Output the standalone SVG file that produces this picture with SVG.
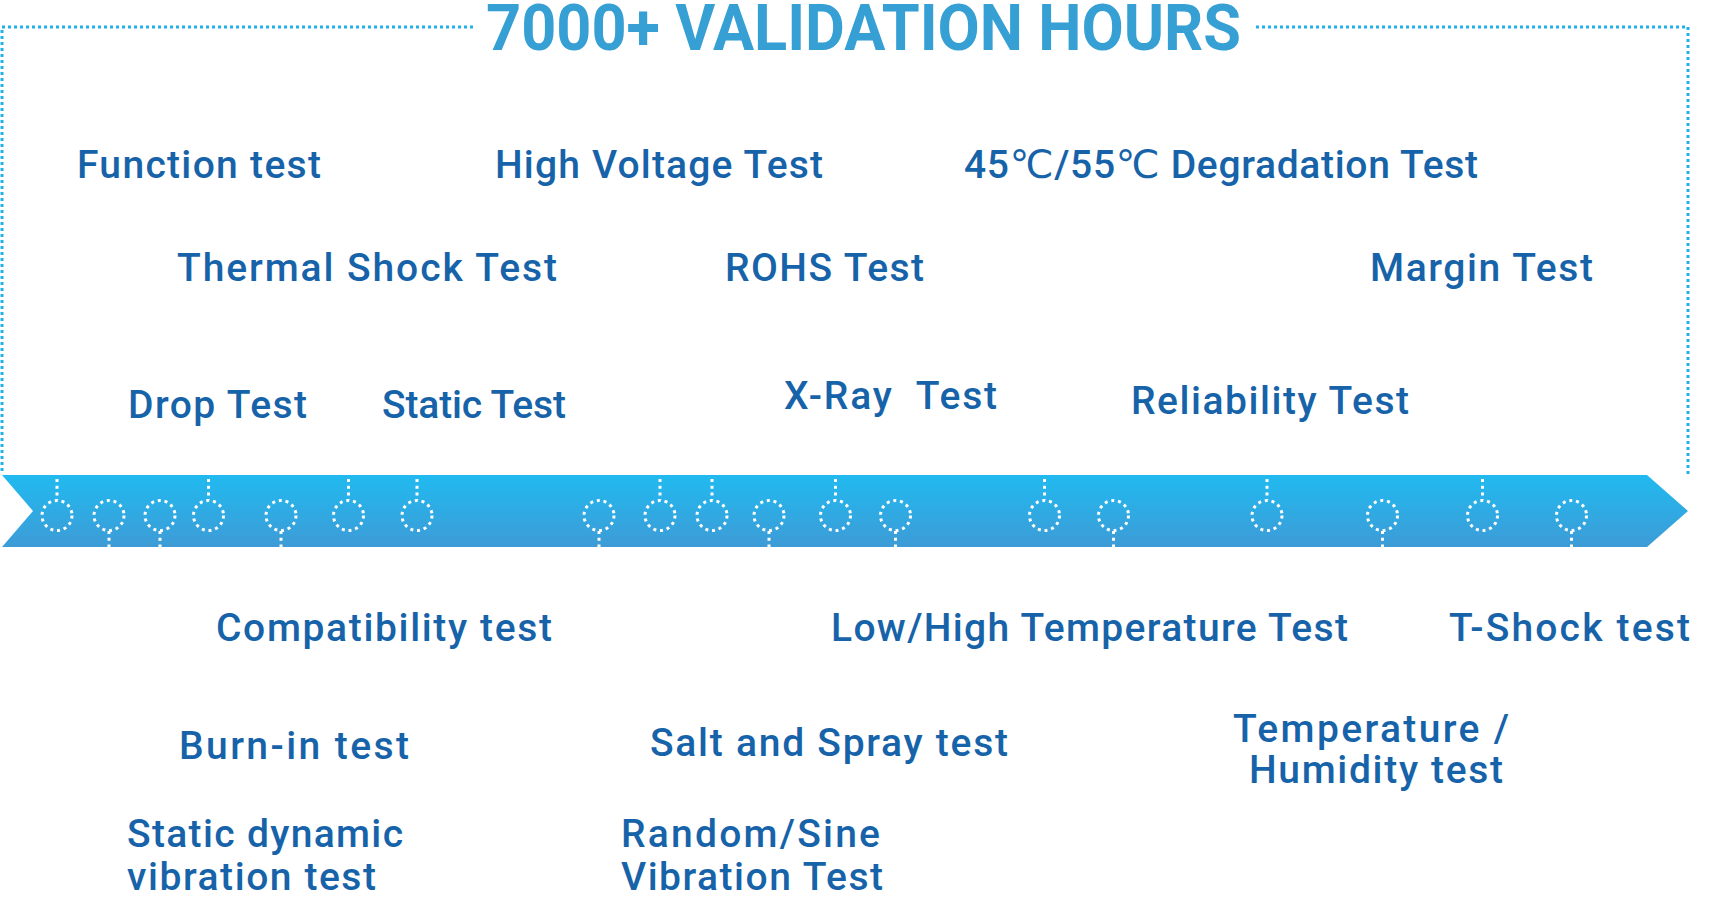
<svg xmlns="http://www.w3.org/2000/svg" width="1712" height="910" viewBox="0 0 1712 910">
  <defs>
    <linearGradient id="barGrad" x1="0" y1="0" x2="0" y2="1">
      <stop offset="0" stop-color="#20baf0"/>
      <stop offset="1" stop-color="#3e9bd6"/>
    </linearGradient>
    <style>
      .frame { fill: none; stroke: #22b0e8; stroke-width: 3; stroke-dasharray: 3 3; }
      .title { font-family: Roboto, "Liberation Sans", sans-serif; font-weight: 700; font-size: 65px; fill: #36a0d4; }
      .lbl { font-family: Roboto, "DejaVu Sans", "Liberation Sans", sans-serif; font-weight: 500; font-size: 39px; fill: #1763a9; }
      .ring { fill: none; stroke: #ffffff; stroke-width: 3; stroke-dasharray: 3 3.8; }
      .stem { fill: none; stroke: #ffffff; stroke-width: 3; stroke-dasharray: 3 3.8; }
    </style>
  </defs>

  <rect x="0" y="0" width="1712" height="910" fill="#ffffff"/>

  <g id="frame">
    <polyline class="frame" points="473,27 2,27 2,472"/>
    <polyline class="frame" points="1256,27 1688,27 1688,475"/>
  </g>

  <g id="title">
    <text class="title" x="486" y="50" textLength="755" lengthAdjust="spacingAndGlyphs">7000+ VALIDATION HOURS</text>
  </g>

  <g id="timeline">
    <path d="M2,475 L1647,475 L1688,511 L1647,547 L2,547 L33,511 Z" fill="url(#barGrad)"/>
  </g>

  <g id="connectors">
    <line class="stem" x1="57" y1="479" x2="57" y2="500"/>
    <line class="stem" x1="208.5" y1="479" x2="208.5" y2="500"/>
    <line class="stem" x1="348.5" y1="479" x2="348.5" y2="500"/>
    <line class="stem" x1="417" y1="479" x2="417" y2="500"/>
    <line class="stem" x1="660" y1="479" x2="660" y2="500"/>
    <line class="stem" x1="712" y1="479" x2="712" y2="500"/>
    <line class="stem" x1="835.5" y1="479" x2="835.5" y2="500"/>
    <line class="stem" x1="1044.5" y1="479" x2="1044.5" y2="500"/>
    <line class="stem" x1="1267" y1="479" x2="1267" y2="500"/>
    <line class="stem" x1="1482.5" y1="479" x2="1482.5" y2="500"/>
    <line class="stem" x1="109" y1="531" x2="109" y2="547"/>
    <line class="stem" x1="160" y1="531" x2="160" y2="547"/>
    <line class="stem" x1="281" y1="531" x2="281" y2="547"/>
    <line class="stem" x1="599" y1="531" x2="599" y2="547"/>
    <line class="stem" x1="769" y1="531" x2="769" y2="547"/>
    <line class="stem" x1="895.5" y1="531" x2="895.5" y2="547"/>
    <line class="stem" x1="1113.5" y1="531" x2="1113.5" y2="547"/>
    <line class="stem" x1="1382.5" y1="531" x2="1382.5" y2="547"/>
    <line class="stem" x1="1571.5" y1="531" x2="1571.5" y2="547"/>
  </g>

  <g id="milestones">
    <circle class="ring" cx="57" cy="515.5" r="15"/>
    <circle class="ring" cx="109" cy="515.5" r="15"/>
    <circle class="ring" cx="160" cy="515.5" r="15"/>
    <circle class="ring" cx="208.5" cy="515.5" r="15"/>
    <circle class="ring" cx="281" cy="515.5" r="15"/>
    <circle class="ring" cx="348.5" cy="515.5" r="15"/>
    <circle class="ring" cx="417" cy="515.5" r="15"/>
    <circle class="ring" cx="599" cy="515.5" r="15"/>
    <circle class="ring" cx="660" cy="515.5" r="15"/>
    <circle class="ring" cx="712" cy="515.5" r="15"/>
    <circle class="ring" cx="769" cy="515.5" r="15"/>
    <circle class="ring" cx="835.5" cy="515.5" r="15"/>
    <circle class="ring" cx="895.5" cy="515.5" r="15"/>
    <circle class="ring" cx="1044.5" cy="515.5" r="15"/>
    <circle class="ring" cx="1113.5" cy="515.5" r="15"/>
    <circle class="ring" cx="1267" cy="515.5" r="15"/>
    <circle class="ring" cx="1382.5" cy="515.5" r="15"/>
    <circle class="ring" cx="1482.5" cy="515.5" r="15"/>
    <circle class="ring" cx="1571.5" cy="515.5" r="15"/>
  </g>

  <g id="label-function"><text class="lbl" x="77" y="178" textLength="244" lengthAdjust="spacing">Function test</text></g>
  <g id="label-highvoltage"><text class="lbl" x="495" y="178" textLength="328" lengthAdjust="spacing">High Voltage Test</text></g>
  <g id="label-degradation"><text class="lbl" x="964" y="178" textLength="514" lengthAdjust="spacing">45℃/55℃ Degradation Test</text></g>

  <g id="label-thermalshock"><text class="lbl" x="177" y="281" textLength="380" lengthAdjust="spacing">Thermal Shock Test</text></g>
  <g id="label-rohs"><text class="lbl" x="725" y="281" textLength="199" lengthAdjust="spacing">ROHS Test</text></g>
  <g id="label-margin"><text class="lbl" x="1370" y="281" textLength="223" lengthAdjust="spacing">Margin Test</text></g>

  <g id="label-drop"><text class="lbl" x="128" y="418" textLength="179" lengthAdjust="spacing">Drop Test</text></g>
  <g id="label-static"><text class="lbl" x="382" y="418" textLength="184" lengthAdjust="spacing">Static Test</text></g>
  <g id="label-xray"><text class="lbl" x="784" y="409" textLength="213" lengthAdjust="spacing" xml:space="preserve">X-Ray  Test</text></g>
  <g id="label-reliability"><text class="lbl" x="1131" y="414" textLength="278" lengthAdjust="spacing">Reliability Test</text></g>

  <g id="label-compatibility"><text class="lbl" x="216" y="641" textLength="336" lengthAdjust="spacing">Compatibility test</text></g>
  <g id="label-lowhigh"><text class="lbl" x="831" y="641" textLength="517" lengthAdjust="spacing">Low/High Temperature Test</text></g>
  <g id="label-tshock"><text class="lbl" x="1449" y="641" textLength="241" lengthAdjust="spacing">T-Shock test</text></g>

  <g id="label-burnin"><text class="lbl" x="179" y="759" textLength="230" lengthAdjust="spacing">Burn-in test</text></g>
  <g id="label-saltspray"><text class="lbl" x="650" y="756" textLength="358" lengthAdjust="spacing">Salt and Spray test</text></g>
  <g id="label-temphumidity">
    <text class="lbl" x="1233" y="742" textLength="276" lengthAdjust="spacing">Temperature /</text>
    <text class="lbl" x="1249" y="783" textLength="254" lengthAdjust="spacing">Humidity test</text>
  </g>

  <g id="label-staticdynamic">
    <text class="lbl" x="127" y="847" textLength="276" lengthAdjust="spacing">Static dynamic</text>
    <text class="lbl" x="127" y="890" textLength="249" lengthAdjust="spacing">vibration test</text>
  </g>
  <g id="label-randomsine">
    <text class="lbl" x="621" y="847" textLength="259" lengthAdjust="spacing">Random/Sine</text>
    <text class="lbl" x="621" y="890" textLength="262" lengthAdjust="spacing">Vibration Test</text>
  </g>
</svg>
